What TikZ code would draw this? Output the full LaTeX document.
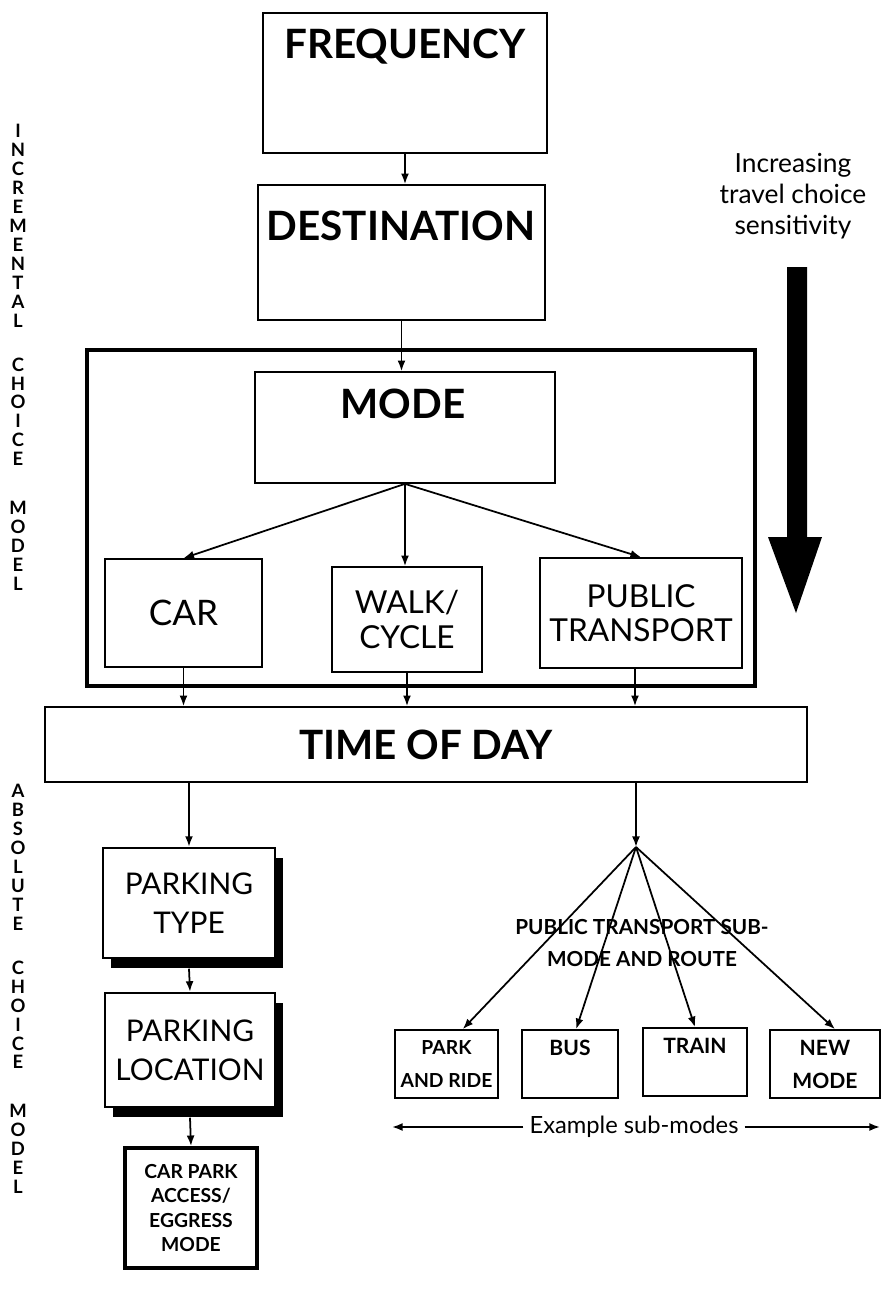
\documentclass[tikz,border=0pt]{standalone}
\usepackage{fontspec}
\setmainfont{Lato}
\usetikzlibrary{positioning,arrows.meta,shadows}

\tikzset{
  stage/.style={draw, line width=1pt, inner sep=0pt, align=center},
  parkbox/.style={draw, line width=1.4pt, fill=white, inner sep=0pt, align=center,
    font=\fontsize{17}{22}\selectfont,
    drop shadow={shadow xshift=0.16cm, shadow yshift=-0.19cm, fill=black, opacity=1}},
  subbox/.style={draw, line width=1pt, inner sep=0pt, align=center, minimum height=1.36cm,
    font=\bfseries\fontsize{12}{18.8}\selectfont},
  link/.style={-{Latex[length=6pt,width=4.5pt]}, line width=1pt},
  headtext/.style={font=\bfseries\fontsize{23}{27}\selectfont},
  choicetext/.style={font=\fontsize{18}{19.4}\selectfont},
  sidetext/.style={font=\bfseries\fontsize{10.5}{10.8}\selectfont, align=center, inner sep=0pt},
}

\begin{document}
\begin{tikzpicture}[x=0.02cm,y=-0.02cm]
\useasboundingbox (0,0) rectangle (882,1306);

% incremental part
\node[stage, minimum width=5.68cm, minimum height=2.8cm] (freq) at (405,83) {};
\node[headtext] (freqtext) at (405,47) {FREQUENCY};
\node[stage, minimum width=5.74cm, minimum height=2.7cm] (dest) at (401.5,252.5) {};
\node[headtext] (desttext) at (401,226) {DESTINATION};
\draw[line width=2.8pt] (87,350) rectangle (755,686);
\node[stage, minimum width=6cm, minimum height=2.22cm] (mode) at (405,427.5) {};
\node[headtext] (modetext) at (403,404) {MODE};
\node[stage, choicetext, minimum width=3.14cm, minimum height=2.16cm, font=\fontsize{20}{22}\selectfont] (car) at (183.5,613) {CAR};
\node[stage, choicetext, minimum width=3cm, minimum height=2.1cm] (walk) at (407,619.5) {WALK/\\CYCLE};
\node[stage, choicetext, minimum width=4.04cm, minimum height=2.2cm] (pt) at (641,613) {PUBLIC\\TRANSPORT};
\node[stage, headtext, minimum width=15.24cm, minimum height=1.5cm] (time) at (426,744.5) {TIME OF DAY};

\draw[link] (freq.south) -- (freq.south |- dest.north);
\draw[link] (dest.south) -- (dest.south |- mode.north);
\draw[link] (mode.south) -- (car.north);
\draw[link] (mode.south) -- (mode.south |- walk.north);
\draw[link] (mode.south) -- (pt.north);
\draw[link] (car.south) -- (car.south |- time.north);
\draw[link] (walk.south) -- (walk.south |- time.north);
\draw[link] ([xshift=-0.12cm]pt.south) -- ([xshift=-0.12cm]pt.south |- time.north);

% sensitivity arrow
\node[font=\fontsize{15}{17.6}\selectfont, align=center] (sensitivity) at (793,196) {Increasing\\travel choice\\sensitivity};
\fill (787,267) -- (807,267) -- (807,537) -- (822,537) -- (796,613) -- (768,537) -- (787,537) -- cycle;

% parking
\node[parkbox, minimum width=3.44cm, minimum height=2.2cm] (ptype) at (189,903) {PARKING\\TYPE};
\node[parkbox, minimum width=3.4cm, minimum height=2.28cm] (ploc) at (190,1050) {PARKING\\LOCATION};
\node[draw, line width=2.2pt, minimum width=2.64cm, minimum height=2.4cm, align=center,
  font=\bfseries\fontsize{11}{13.7}\selectfont] (cpark) at (191,1208) {CAR PARK\\ACCESS/\\EGGRESS\\MODE};
\draw[link] (time.south -| ptype.north) -- (ptype.north);
\draw[link] ([yshift=-0.19cm]ptype.south) -- (ploc.north);
\draw[link] ([yshift=-0.19cm]ploc.south) -- (cpark.north);

% public transport sub-modes
\coordinate (fork) at (636,847);
\draw[link] (time.south -| fork) -- (fork);
\node[subbox, minimum width=2.06cm, font=\bfseries\fontsize{11}{18.8}\selectfont] (park) at (446.5,1064) {PARK\\AND RIDE};
\node[subbox, minimum width=1.92cm] (bus) at (570,1064) {BUS\\~};
\node[subbox, minimum width=2.08cm] (train) at (695,1062) {TRAIN\\~};
\node[subbox, minimum width=2.2cm] (newmode) at (825,1064) {NEW\\MODE};
\draw[link] (fork) -- (park.65);
\draw[link] (fork) -- (bus.80);
\draw[link] (fork) -- (train.north);
\draw[link] (fork) -- (newmode.74);
\node[font=\bfseries\fontsize{11.8}{18.7}\selectfont, align=center] (subroute) at (642,943) {PUBLIC TRANSPORT SUB-\\MODE AND ROUTE};

\node[font=\fontsize{13.5}{16}\selectfont] (example) at (634,1127) {Example sub-modes};
\coordinate (exleft) at (392,1127);
\coordinate (exright) at (880,1127);
\draw[link] (example.west) -- (exleft);
\draw[link] (example.east) -- (exright);

% side labels
\node[sidetext, anchor=north] (incr) at (18,124) {I\\N\\C\\R\\E\\M\\E\\N\\T\\A\\L\\[14pt]C\\H\\O\\I\\C\\E\\[17pt]M\\O\\D\\E\\L};
\node[sidetext, anchor=north] (absol) at (18,784) {A\\B\\S\\O\\L\\U\\T\\E\\[14pt]C\\H\\O\\I\\C\\E\\[17pt]M\\O\\D\\E\\L};
\end{tikzpicture}
\end{document}
